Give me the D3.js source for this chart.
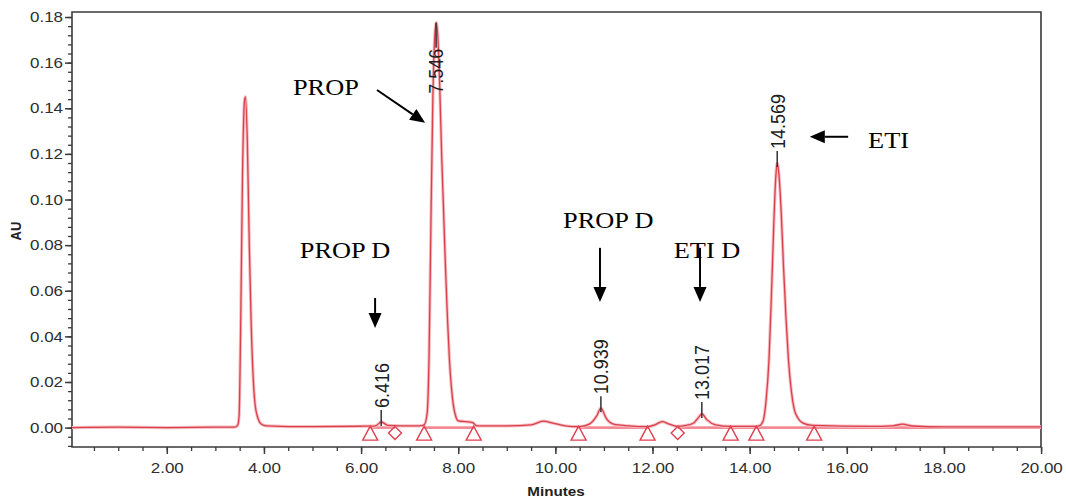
<!DOCTYPE html>
<html><head><meta charset="utf-8">
<script src="https://cdn.jsdelivr.net/npm/d3@7"></script>
<style>
html,body{margin:0;padding:0;background:#fff;}
svg{display:block;}
svg *{vector-effect:non-scaling-stroke;}
</style></head><body>
<svg id="chart" width="1066" height="501"></svg>
<script>
// ---- data ----
const timeMin = [0.05,1.0,2.0,3.0,3.40,3.46,3.49,3.52,3.56,3.60,3.62,3.66,3.70,3.74,3.78,3.82,3.88,3.95,4.05,5.0,6.0,
  6.30,6.42,6.55,6.8,7.20,7.30,7.36,7.40,7.44,7.48,7.52,7.55,7.58,7.62,7.66,7.70,7.74,7.78,7.82,7.86,7.90,7.95,8.00,8.15,8.30,8.38,
  9.0,9.5,9.75,9.95,10.2,10.5,10.7,10.85,10.94,11.05,11.2,11.5,11.9,12.05,12.2,12.35,12.5,12.7,12.85,12.95,13.02,13.12,13.3,13.6,14.1,
  14.20,14.28,14.34,14.40,14.45,14.50,14.54,14.57,14.60,14.65,14.70,14.75,14.80,14.86,14.92,15.00,15.10,15.30,16.5,16.95,17.15,17.35,18.0,20.0];
const absorbance = [0.0000,0.0002,0.0000,0.0002,0.0002,0.0010,0.0050,0.040,0.110,0.143,0.145,0.125,0.080,0.045,0.022,0.010,0.004,0.0015,0.0008,0.0004,0.0006,
  0.0008,0.0025,0.0010,0.0008,0.0008,0.0012,0.006,0.030,0.090,0.145,0.172,0.1775,0.172,0.150,0.120,0.095,0.070,0.048,0.030,0.018,0.010,0.005,0.0030,0.0026,0.0022,0.0008,
  0.0008,0.0012,0.0028,0.0020,0.0008,0.0004,0.0015,0.005,0.0085,0.004,0.0015,0.0008,0.0004,0.0012,0.0026,0.0015,0.0006,0.0010,0.0020,0.0045,0.0060,0.0035,0.0012,0.0005,0.0005,
  0.0008,0.003,0.012,0.030,0.058,0.090,0.110,0.116,0.112,0.095,0.070,0.048,0.030,0.016,0.008,0.004,0.002,0.001,0.0005,0.0008,0.0015,0.0007,0.0003,0.0003];

const peakTimes   = [6.416, 7.546, 10.939, 13.017, 14.569];
const peakHeights = [0.0025, 0.1775, 0.0085, 0.0060, 0.116];
const peakLabels  = ["6.416", "7.546", "10.939", "13.017", "14.569"];

const triangleTimes = [6.19, 7.30, 8.32, 10.48, 11.90, 13.61, 14.14, 15.33];
const diamondTimes  = [6.70, 12.52];
const baselineStarts = [6.19, 7.30, 10.48, 12.52];
const baselineEnds   = [6.70, 8.32, 11.90, 20.0];

const xTickValues = [2, 4, 6, 8, 10, 12, 14, 16, 18, 20];
const xTickLabels = ["2.00","4.00","6.00","8.00","10.00","12.00","14.00","16.00","18.00","20.00"];
const yTickValues = [0, 0.02, 0.04, 0.06, 0.08, 0.10, 0.12, 0.14, 0.16, 0.18];
const yTickLabels = ["0.00","0.02","0.04","0.06","0.08","0.10","0.12","0.14","0.16","0.18"];

const annotationTexts = ["PROP", "PROP D", "PROP D", "ETI D", "ETI"];
const annotationTime  = [4.60, 4.74, 10.16, 12.44, 16.44];
const annotationAU    = [0.1458, 0.0744, 0.0876, 0.0744, 0.1227];
const arrowFromTime = [6.33, 6.29, 10.92, 12.98, 16.03];
const arrowFromAU   = [0.1480, 0.0568, 0.0788, 0.0788, 0.1275];
const arrowToTime   = [7.32, 6.29, 10.92, 12.98, 15.24];
const arrowToAU     = [0.1336, 0.0437, 0.0551, 0.0551, 0.1275];

// ---- layout ----
const S = 1.17; // horizontal stretch of the original figure
const svg = d3.select("#chart");
const root = svg.append("g").attr("transform", `scale(${S},1)`);
const flat = svg.append("g");
const over = svg.append("g").attr("transform", `scale(${S},1)`);
const flatOver = svg.append("g");
const pLeft = 72 / S, pRight = 1041 / S, pTop = 12, pBottom = 447;
const x = d3.scaleLinear().domain([0.05, 20]).range([pLeft, pRight]);
const y = d3.scaleLinear().domain([-0.0085, 0.1822]).range([pBottom, pTop]);
const X = t => x(t) * S;
const sans = "'Liberation Sans', Arial, sans-serif";
const serif = "'Liberation Serif', 'Times New Roman', serif";
const axisColor = "#3a3a3a";

// minor ticks
root.append("g").attr("transform", `translate(0,${pBottom})`)
  .call(d3.axisBottom(x).tickValues(d3.range(0.5, 20.01, 0.5)).tickSize(4).tickFormat(""))
  .call(g => g.select(".domain").remove())
  .call(g => g.selectAll("line").attr("stroke", axisColor).attr("stroke-width", 1.3));
root.append("g").attr("transform", `translate(${pLeft},0)`)
  .call(d3.axisLeft(y).tickValues(d3.range(-0.008, 0.1801, 0.004)).tickSize(4 / S).tickFormat(""))
  .call(g => g.select(".domain").remove())
  .call(g => g.selectAll("line").attr("stroke", axisColor).attr("stroke-width", 1.3));

// major ticks
const xAxis = root.append("g").attr("transform", `translate(0,${pBottom})`)
  .call(d3.axisBottom(x).tickValues(xTickValues).tickSize(7).tickPadding(9)
    .tickFormat((d, i) => xTickLabels[i]));
const yAxis = root.append("g").attr("transform", `translate(${pLeft},0)`)
  .call(d3.axisLeft(y).tickValues(yTickValues).tickSize(7 / S).tickPadding(2 / S)
    .tickFormat((d, i) => yTickLabels[i]));
[xAxis, yAxis].forEach(a => {
  a.select(".domain").remove();
  a.selectAll("line").attr("stroke", axisColor).attr("stroke-width", 1.5);
  a.selectAll("text").attr("fill", "#2e2e2e").style("font-family", sans).style("font-size", "14.5px");
});

// frame
root.append("rect").attr("x", pLeft).attr("y", pTop).attr("width", pRight - pLeft).attr("height", pBottom - pTop)
  .attr("fill", "none").attr("stroke", axisColor).attr("stroke-width", 1.6);

// axis titles
root.append("text").attr("x", 556 / S).attr("y", 496).attr("text-anchor", "middle")
  .style("font-family", sans).style("font-size", "13px").style("font-weight", "bold").attr("fill", "#222")
  .text("Minutes");
root.append("text").attr("transform", `translate(${21 / S},231) rotate(-90)`).attr("text-anchor", "middle")
  .style("font-family", sans).style("font-size", "13px").style("font-weight", "bold").attr("fill", "#222")
  .text("AU");

// integration baselines
flat.selectAll(".base").data(baselineStarts).enter().append("line")
  .attr("x1", d => X(d)).attr("x2", (d, i) => X(baselineEnds[i]))
  .attr("y1", y(0)).attr("y2", y(0))
  .attr("stroke", "#f28b95").attr("stroke-width", 2.6);

// trace
const pts = timeMin.map((t, i) => [t, absorbance[i]]);
const line = d3.line().x(d => X(d[0])).y(d => y(d[1])).curve(d3.curveMonotoneX);
flat.append("path").attr("d", line(pts)).attr("fill", "none").attr("stroke", "#f7bcc2").attr("stroke-width", 3.2);
flat.append("path").attr("d", line(pts)).attr("fill", "none").attr("stroke", "#d9414b").attr("stroke-width", 1.3);

// integration markers
flat.selectAll(".tri").data(triangleTimes).enter().append("path")
  .attr("d", d => `M${X(d)},${y(0) - 1.5}L${X(d) - 7.5},${y(0) + 12.5}L${X(d) + 7.5},${y(0) + 12.5}Z`)
  .attr("fill", "none").attr("stroke", "#e0404f").attr("stroke-width", 1.4);
flat.selectAll(".dia").data(diamondTimes).enter().append("path")
  .attr("d", d => `M${X(d)},${y(0) - 1}L${X(d) + 6.5},${y(0) + 5.5}L${X(d)},${y(0) + 12}L${X(d) - 6.5},${y(0) + 5.5}Z`)
  .attr("fill", "none").attr("stroke", "#e0404f").attr("stroke-width", 1.4);

// peak labels (drawn over the trace)
peakTimes.forEach((t, i) => {
  const px = x(t), py = y(peakHeights[i]);
  const txt = over.append("text").style("font-family", sans).style("font-size", "18px").attr("fill", "#1e1e1e")
    .attr("dy", "0.35em").text(peakLabels[i]);
  const len = txt.node().getComputedTextLength();
  let l1, l2, tb;
  if (py - 14 - len < pTop + 2) { l1 = py; l2 = py + 25; tb = l2 + len + 1; }
  else { l1 = py + 4; l2 = py - 12; tb = py - 14; }
  txt.attr("transform", `translate(${px},${tb}) rotate(-90)`);
  flatOver.append("line").attr("x1", X(t)).attr("x2", X(t)).attr("y1", l1).attr("y2", l2)
    .attr("stroke", "#333").attr("stroke-width", 1.5);
});

// annotations
annotationTexts.forEach((s, i) => {
  over.append("text").attr("x", x(annotationTime[i])).attr("y", y(annotationAU[i]))
    .style("font-family", serif).style("font-size", "22.5px").attr("fill", "#000").text(s);
  const x1 = X(arrowFromTime[i]), y1 = y(arrowFromAU[i]);
  const x2 = X(arrowToTime[i]), y2 = y(arrowToAU[i]);
  const a = Math.atan2(y2 - y1, x2 - x1), hl = 15, hw = 6.5;
  const bx = x2 - hl * Math.cos(a), by = y2 - hl * Math.sin(a);
  flatOver.append("line").attr("x1", x1).attr("y1", y1).attr("x2", bx).attr("y2", by)
    .attr("stroke", "#000").attr("stroke-width", 2);
  flatOver.append("path")
    .attr("d", `M${x2},${y2}L${bx - hw * Math.sin(a)},${by + hw * Math.cos(a)}L${bx + hw * Math.sin(a)},${by - hw * Math.cos(a)}Z`)
    .attr("fill", "#000");
});
</script>
</body></html>
